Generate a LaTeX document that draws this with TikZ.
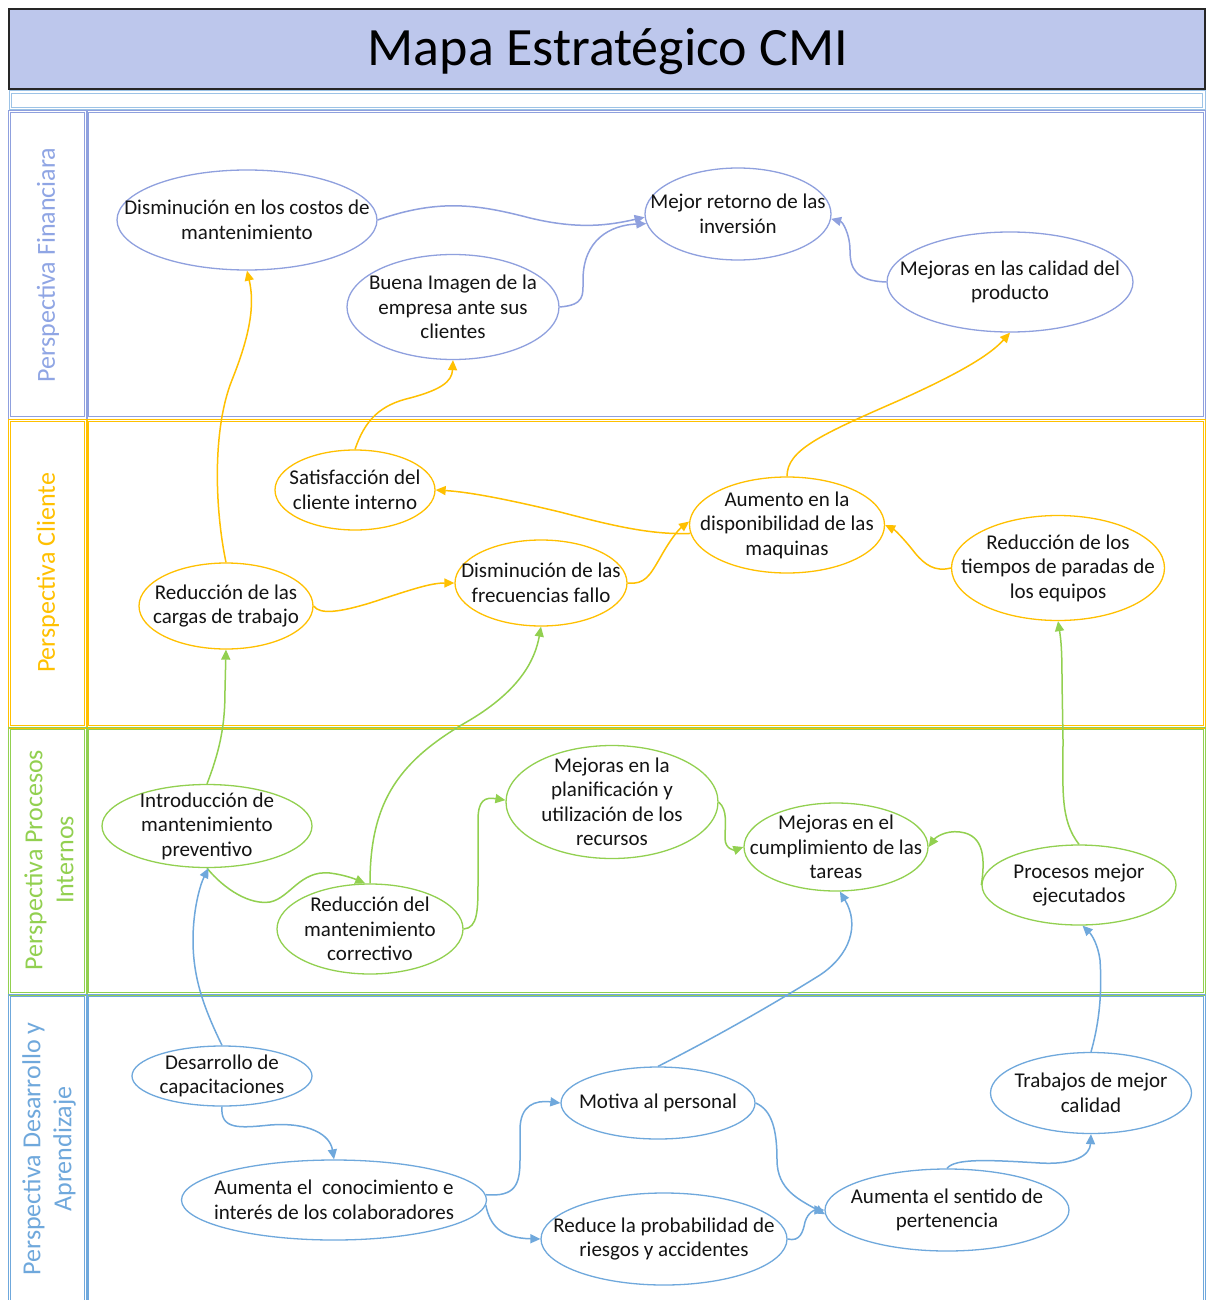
\documentclass[tikz,border=0pt]{standalone}
\usepackage{fontspec}
\setmainfont{Carlito}
\usetikzlibrary{arrows.meta,shapes.geometric,calc}
\definecolor{fincol}{RGB}{143,160,222}
\definecolor{finlab}{RGB}{143,165,228}
\definecolor{clicol}{RGB}{255,192,0}
\definecolor{procol}{RGB}{146,208,80}
\definecolor{descol}{RGB}{111,168,220}
\definecolor{titlefill}{RGB}{189,199,236}
\definecolor{bandcol}{RGB}{157,195,230}
\definecolor{txtcol}{RGB}{20,20,20}
\newcommand{\ovalnode}[7]{%
  \node[ov=#2, minimum width=#5pt, minimum height=#6pt] (#1) at (#3,#4) {};
  \node[tx] (#1t) at (#1) {#7};}
\newcommand{\dbox}[5]{%
  \draw[secline=#1] (#2,#3) rectangle (#4,#5);
  \draw[secline=#1] ($(#2,#3)+(2.2,2.2)$) rectangle ($(#4,#5)+(-2.2,-2.2)$);}
\tikzset{
  ov/.style={ellipse, draw=#1, line width=1.3pt, fill=white, inner sep=0pt},
  tx/.style={align=center, inner sep=0pt, text=txtcol, font=\fontsize{21}{24.5}\selectfont},
  con/.style={draw=#1, line width=1.5pt, -{Triangle[length=10pt,width=9pt]}},
  secline/.style={draw=#1, line width=1pt},
  seclab/.style={rotate=90, align=center, text=#1, inner sep=0pt, font=\fontsize{26}{31}\selectfont}
}
\begin{document}
\begin{tikzpicture}[x=1pt,y=-1pt]
\useasboundingbox (0,0) rectangle (1207,1300);
\fill[white] (0,0) rectangle (1207,1300);
% title
\node[draw=black!85, line width=1.6pt, fill=titlefill, minimum width=1196pt, minimum height=80pt, inner sep=0pt] (title) at (607,49) {};
\node[inner sep=0pt, font=\fontsize{54}{60}\selectfont] (titletext) at (608,52) {Mapa Estratégico CMI};
\dbox{bandcol}{9}{91}{1205}{110}
% sections
\dbox{fincol}{8.5}{110.5}{87}{419}
\dbox{fincol}{86.5}{110.5}{1205.5}{419}
\dbox{clicol}{8.5}{419.5}{87}{728}
\dbox{clicol}{86.5}{419.5}{1205.5}{728}
\dbox{procol}{8.5}{727}{87}{995}
\dbox{procol}{86.5}{727}{1205.5}{995}
\dbox{descol}{8.5}{994}{87}{1310}
\dbox{descol}{86.5}{994}{1205.5}{1310}
\node[seclab=finlab] (lfin) at (48,265) {Perspectiva Financiara};
\node[seclab=clicol] (lcli) at (48,573) {Perspectiva Cliente};
\node[seclab=procol] (lpro) at (49,860) {Perspectiva Procesos\\Internos};
\node[seclab=descol] (ldes) at (49,1149) {Perspectiva Desarrollo y\\Aprendizaje};
% ellipses
\ovalnode{dc}{fincol}{247}{220}{260}{100}{Disminución en los costos de\\mantenimiento}
\ovalnode{mr}{fincol}{738}{214}{186}{92}{Mejor retorno de las\\inversión}
\ovalnode{bi}{fincol}{453}{307}{212}{105}{Buena Imagen de la\\empresa ante sus\\clientes}
\ovalnode{mq}{fincol}{1010}{282}{246}{100}{Mejoras en las calidad del\\producto}
\ovalnode{si}{clicol}{355}{490}{160}{80}{Satisfacción del\\cliente interno}
\ovalnode{au}{clicol}{787}{525}{195}{96}{Aumento en la\\disponibilidad de las\\maquinas}
\ovalnode{rc}{clicol}{226}{606}{174}{86}{Reducción de las\\cargas de trabajo}
\ovalnode{df}{clicol}{541}{583}{172}{86}{Disminución de las\\frecuencias fallo}
\ovalnode{rt}{clicol}{1058}{568}{213}{105}{Reducción de los\\tiempos de paradas de\\los equipos}
\ovalnode{ip}{procol}{207}{826}{210}{83}{Introducción de\\mantenimiento\\preventivo}
\ovalnode{rm}{procol}{370}{929}{186}{90}{Reducción del\\mantenimiento\\correctivo}
\ovalnode{mp}{procol}{612}{802}{212}{113}{Mejoras en la\\planificación y\\utilización de los\\recursos}
\ovalnode{mc}{procol}{836}{847}{184}{88}{Mejoras en el\\cumplimiento de las\\tareas}
\ovalnode{pm}{procol}{1079}{885}{194}{80}{Procesos mejor\\ejecutados}
\ovalnode{dca}{descol}{222}{1076}{180}{60}{Desarrollo de\\capacitaciones}
\ovalnode{ac}{descol}{334}{1200}{305}{80}{Aumenta el~ conocimiento e\\interés de los colaboradores}
\ovalnode{mo}{descol}{658}{1103}{194}{72}{Motiva al personal}
\ovalnode{re}{descol}{664}{1239}{246}{92}{Reduce la probabilidad de\\riesgos y accidentes}
\ovalnode{as}{descol}{947}{1210}{244}{82}{Aumenta el sentido de\\pertenencia}
\ovalnode{tq}{descol}{1091}{1093}{201}{81}{Trabajos de mejor\\calidad}
% financial connectors
\draw[con=fincol] (dc.east) .. controls (440,198) and (480,205) .. (530,218) .. controls (580,230) and (610,225) .. (mr.182);
\draw[con=fincol] (bi.east) .. controls (585,305) and (583,295) .. (583,280) .. controls (583,240) and (610,225) .. (mr.186);
\draw[con=fincol] (mq.west) .. controls (855,281) and (850,268) .. (850,250) .. controls (850,235) and (843,222) .. (mr.357);
% client connectors
\draw[con=clicol] (rc.north) .. controls (215,510) and (212,430) .. (232,380) .. controls (250,335) and (255,305) .. (dc.south);
\draw[con=clicol] (si.north) .. controls (365,420) and (380,405) .. (410,398) .. controls (440,390) and (452,382) .. (bi.south);
\draw[con=clicol] (au.north) .. controls (787,450) and (820,435) .. (900,400) .. controls (960,373) and (990,355) .. (mq.south);
\draw[con=clicol] (au.185) .. controls (650,535) and (610,525) .. (560,512) .. controls (510,500) and (470,492) .. (si.east);
\draw[con=clicol] (rc.east) .. controls (320,615) and (340,612) .. (370,603) .. controls (410,590) and (430,583) .. (df.west);
\draw[con=clicol] (df.east) .. controls (645,585) and (650,575) .. (660,558) .. controls (670,540) and (678,530) .. (au.178);
\draw[con=clicol] (rt.west) .. controls (935,572) and (925,565) .. (915,553) .. controls (905,540) and (895,530) .. (au.east);
% process connectors
\draw[con=procol] (ip.north) .. controls (222,745) and (225,720) .. (225,690) -- (rc.south);
\draw[con=procol] (rm.north) .. controls (370,800) and (400,760) .. (470,720) .. controls (520,690) and (535,660) .. (df.south);
\draw[con=procol] (ip.south) .. controls (225,890) and (250,905) .. (270,902) .. controls (290,898) and (300,870) .. (330,873) .. controls (345,875) and (355,879) .. (rm.96);
\draw[con=procol] (rm.east) .. controls (478,928) and (478,910) .. (478,880) -- (478,820) .. controls (478,800) and (485,797) .. (mp.179);
\draw[con=procol] (mp.east) .. controls (728,810) and (725,825) .. (725,838) .. controls (725,850) and (735,850) .. (mc.west);
\draw[con=procol] (pm.west) .. controls (985,860) and (985,835) .. (960,832) .. controls (945,830) and (935,838) .. (mc.east);
\draw[con=procol] (pm.north) .. controls (1060,820) and (1063,790) .. (1063,740) -- (1062,680) .. controls (1062,650) and (1061,640) .. (rt.south);
% development connectors
\draw[con=descol] (dca.north) .. controls (205,1010) and (193,980) .. (193,940) .. controls (193,910) and (200,885) .. (ip.272);
\draw[con=descol] (dca.south) .. controls (220,1130) and (240,1128) .. (270,1125) .. controls (310,1122) and (330,1135) .. (ac.north);
\draw[con=descol] (ac.2) .. controls (515,1197) and (520,1185) .. (520,1160) -- (520,1130) .. controls (520,1105) and (535,1100) .. (mo.west);
\draw[con=descol] (ac.358) .. controls (490,1225) and (500,1238) .. (re.west);
\draw[con=descol] (mo.north) .. controls (720,1035) and (780,1000) .. (820,975) .. controls (850,955) and (860,925) .. (mc.275);
\draw[con=descol] (mo.east) .. controls (772,1110) and (777,1130) .. (777,1160) .. controls (777,1190) and (800,1200) .. (as.182);
\draw[con=descol] (re.east) .. controls (800,1242) and (803,1232) .. (805,1222) .. controls (808,1212) and (815,1210) .. (as.west);
\draw[con=descol] (as.north) .. controls (955,1158) and (990,1160) .. (1040,1163) .. controls (1075,1165) and (1090,1155) .. (tq.south);
\draw[con=descol] (tq.north) .. controls (1100,1020) and (1102,990) .. (1100,960) .. controls (1098,945) and (1092,935) .. (pm.275);
\end{tikzpicture}
\end{document}
